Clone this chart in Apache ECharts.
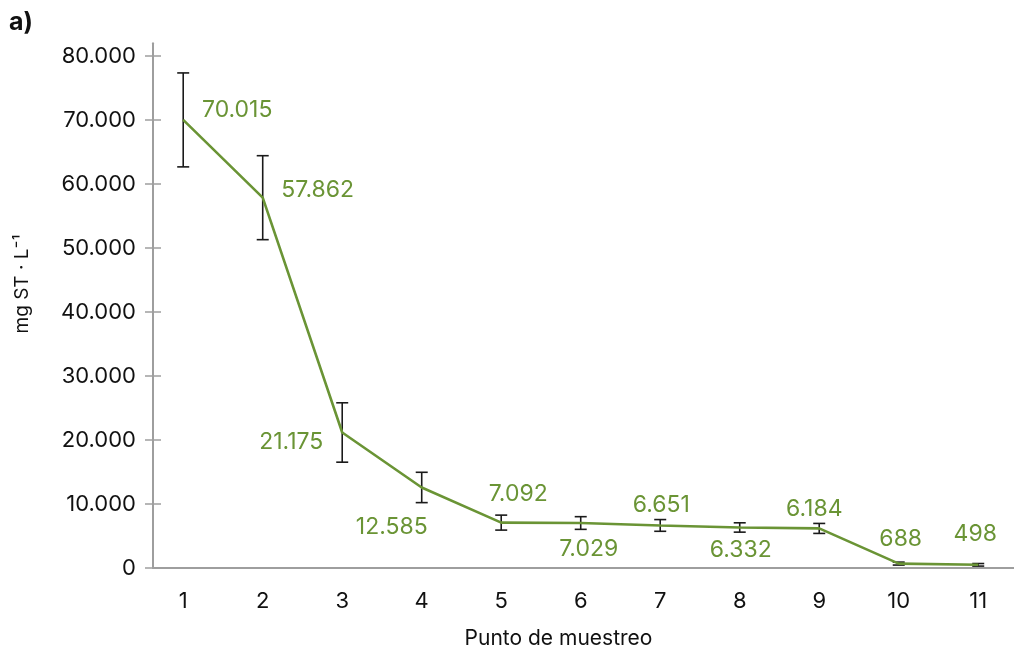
<!DOCTYPE html>
<html>
<head>
<meta charset="utf-8">
<style>
  html, body { margin: 0; padding: 0; background: #fff; }
  #chart { width: 1014px; height: 650px; }
</style>
<script src="https://cdn.jsdelivr.net/npm/echarts@6/dist/echarts.min.js"></script>
</head>
<body>
<div id="chart"></div>
<script>
// Sampling points along the stream
const categories = ['1', '2', '3', '4', '5', '6', '7', '8', '9', '10', '11'];
// Mean total solids (mg ST · L-1) per sampling point
const meanValues = [70015, 57862, 21175, 12585, 7092, 7029, 6651, 6332, 6184, 688, 498];
// Half-width of the error bar at each point
const errorValues = [7340, 6560, 4640, 2370, 1170, 990, 915, 730, 780, 230, 200];
// Y-axis tick values
const yTicks = [0, 10000, 20000, 30000, 40000, 50000, 60000, 70000, 80000];
// Where each value label sits relative to its point [dx, dy]
const labelPlacement = [[54, -10], [55, -8], [-51, 10], [-30, 40], [17, -29], [8, 26], [1, -20], [1, 23], [-5, -19], [2, -25], [-3, -31]];

const GREEN = '#6a9435';
const FONT = 'Inter';

const fmt = v => String(Math.round(v)).replace(/\B(?=(\d{3})+(?!\d))/g, '.');

const xVals = categories.map(Number);
const lineData = xVals.map((x, i) => ({
  value: [x, meanValues[i]],
  label: { offset: labelPlacement[i] }
}));
const errorData = xVals.map((x, i) => [x, meanValues[i] - errorValues[i], meanValues[i] + errorValues[i]]);

const chart = echarts.init(document.getElementById('chart'), null, { renderer: 'canvas' });

chart.setOption({
  animation: false,
  backgroundColor: '#ffffff',
  title: {
    text: 'a)',
    left: 4,
    top: 5,
    textStyle: { fontFamily: FONT, fontSize: 25, fontWeight: 'bold', color: '#111' }
  },
  grid: { left: 153, right: 0, top: 43.2, bottom: 82, containLabel: false, outerBoundsMode: 'none' },
  xAxis: {
    type: 'value',
    min: 0.62,
    max: 11.45,
    name: 'Punto de muestreo',
    nameLocation: 'middle',
    nameGap: 60,
    nameTextStyle: { fontFamily: FONT, fontSize: 21, color: '#111', padding: [0, 50, 0, 0] },
    axisLine: { show: true, onZero: false, lineStyle: { color: '#9e9e9e', width: 2 } },
    axisTick: { show: false },
    splitLine: { show: false },
    axisLabel: {
      customValues: xVals,
      formatter: v => String(v),
      margin: 22,
      fontFamily: FONT, fontSize: 22, color: '#111'
    }
  },
  yAxis: [{
    type: 'value',
    min: 0,
    max: 82000,
    axisLine: { show: true, lineStyle: { color: '#9e9e9e', width: 2 } },
    axisTick: { show: true, customValues: yTicks, length: 8, inside: false, lineStyle: { color: '#9e9e9e', width: 1.5 } },
    splitLine: { show: false },
    axisLabel: {
      customValues: yTicks,
      formatter: v => fmt(v),
      margin: 17,
      fontFamily: FONT, fontSize: 22, color: '#111'
    }
  }, {
    type: 'value',
    position: 'left',
    min: 0,
    max: 82000,
    axisLine: { show: false },
    axisTick: { show: true, customValues: yTicks, length: 8, inside: true, lineStyle: { color: '#9e9e9e', width: 1.5 } },
    splitLine: { show: false },
    axisLabel: { show: false }
  }],
  graphic: [{
    type: 'text',
    x: 22,
    y: 284,
    rotation: Math.PI / 2,
    style: {
      text: 'mg ST · L⁻¹',
      fontFamily: FONT, fontSize: 19, fill: '#111',
      align: 'center', verticalAlign: 'middle'
    }
  }],
  series: [{
    type: 'custom',
    name: 'error',
    z: 1,
    data: errorData,
    encode: { x: 0, y: [1, 2] },
    renderItem: (params, api) => {
      const x = api.value(0);
      const lo = api.coord([x, api.value(1)]);
      const hi = api.coord([x, api.value(2)]);
      const cap = 6;
      const style = { stroke: '#1a1a1a', lineWidth: 1.6 };
      return {
        type: 'group',
        children: [
          { type: 'line', shape: { x1: lo[0], y1: lo[1], x2: hi[0], y2: hi[1] }, style },
          { type: 'line', shape: { x1: lo[0] - cap, y1: lo[1], x2: lo[0] + cap, y2: lo[1] }, style },
          { type: 'line', shape: { x1: hi[0] - cap, y1: hi[1], x2: hi[0] + cap, y2: hi[1] }, style }
        ]
      };
    }
  }, {
    type: 'line',
    name: 'ST',
    z: 3,
    data: lineData,
    symbol: 'circle',
    symbolSize: 1,
    showSymbol: true,
    itemStyle: { color: GREEN },
    lineStyle: { color: GREEN, width: 2.6 },
    label: {
      show: true,
      position: 'inside',
      align: 'center',
      verticalAlign: 'middle',
      formatter: p => fmt(p.value[1]),
      fontFamily: FONT, fontSize: 23, color: GREEN
    }
  }]
});
</script>
</body>
</html>
